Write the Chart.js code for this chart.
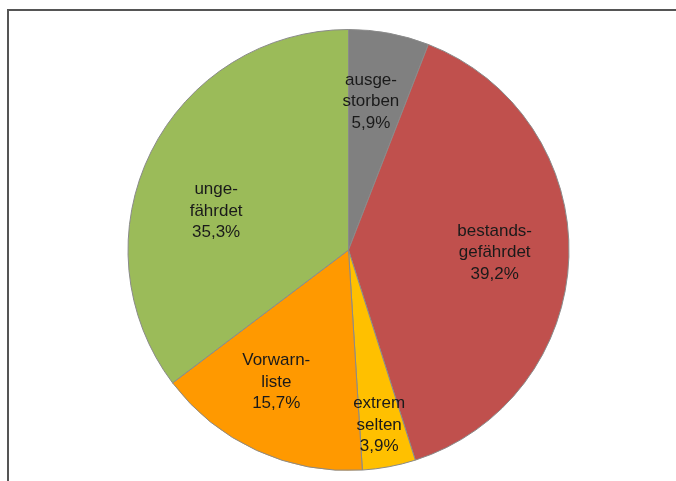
<!DOCTYPE html>
<html>
<head>
<meta charset="utf-8">
<script src="https://cdn.jsdelivr.net/npm/chart.js@4/dist/chart.umd.min.js"></script>
<style>
  html, body { margin: 0; padding: 0; background: #fff; }
  #wrap { position: relative; width: 676px; height: 481px; }
  #frame {
    position: absolute; left: 7px; top: 9px; right: -2px; bottom: -2px;
    border-top: 2px solid #555; border-left: 2px solid #555;
  }
  canvas { position: absolute; left: 0; top: 0; }
</style>
</head>
<body>
<div id="wrap">
  <div id="frame"></div>
  <canvas id="pieChart" width="676" height="481"></canvas>
</div>
<script>
// Anteile der Kategorien (%)
const categories = [
    ['ausge-', 'storben'],
    ['bestands-', 'gefährdet'],
    ['extrem', 'selten'],
    ['Vorwarn-', 'liste'],
    ['unge-', 'fährdet']
];
const shares = [5.9, 39.2, 3.9, 15.7, 35.3];
const colors = ['#808080', '#c0504d', '#ffc000', '#ff9900', '#9bbb59'];

// label placement: fraction of radius, angle shift in degrees
const labelRadius = [0.68, 0.663, 0.806, 0.683, 0.626];
const labelShift = [-2, -0.8, 0.7, 4, -10];

const labelPlugin = {
    id: 'sliceLabels',
    afterDatasetsDraw(chart) {
        const ctx = chart.ctx;
        const arcs = chart.getDatasetMeta(0).data;
        ctx.save();
        ctx.font = '17px "Liberation Sans", Arial, sans-serif';
        ctx.fillStyle = '#1a1a1a';
        ctx.textAlign = 'center';
        ctx.textBaseline = 'middle';
        arcs.forEach((arc, i) => {
            const p = arc.getProps(['x', 'y', 'startAngle', 'endAngle', 'outerRadius'], true);
            const mid = (p.startAngle + p.endAngle) / 2 + labelShift[i] * Math.PI / 180;
            const r = p.outerRadius * labelRadius[i];
            const cx = p.x + Math.cos(mid) * r;
            const cy = p.y + Math.sin(mid) * r;
            const lines = [...categories[i], shares[i].toFixed(1).replace('.', ',') + '%'];
            const lh = 21.5;
            lines.forEach((t, j) => {
                ctx.fillText(t, cx, cy + (j - 1) * lh);
            });
        });
        ctx.restore();
    }
};

new Chart(document.getElementById('pieChart'), {
    type: 'pie',
    data: {
        labels: categories.map(c => c.join('')),
        datasets: [{
            data: shares,
            backgroundColor: colors,
            borderColor: '#8a8a8a',
            borderWidth: 1
        }]
    },
    options: {
        responsive: false,
        animation: false,
        layout: { padding: { left: 127, right: 106, top: 29, bottom: 10 } },
        plugins: {
            legend: { display: false },
            tooltip: { enabled: false }
        }
    },
    plugins: [labelPlugin]
});
</script>
</body>
</html>
